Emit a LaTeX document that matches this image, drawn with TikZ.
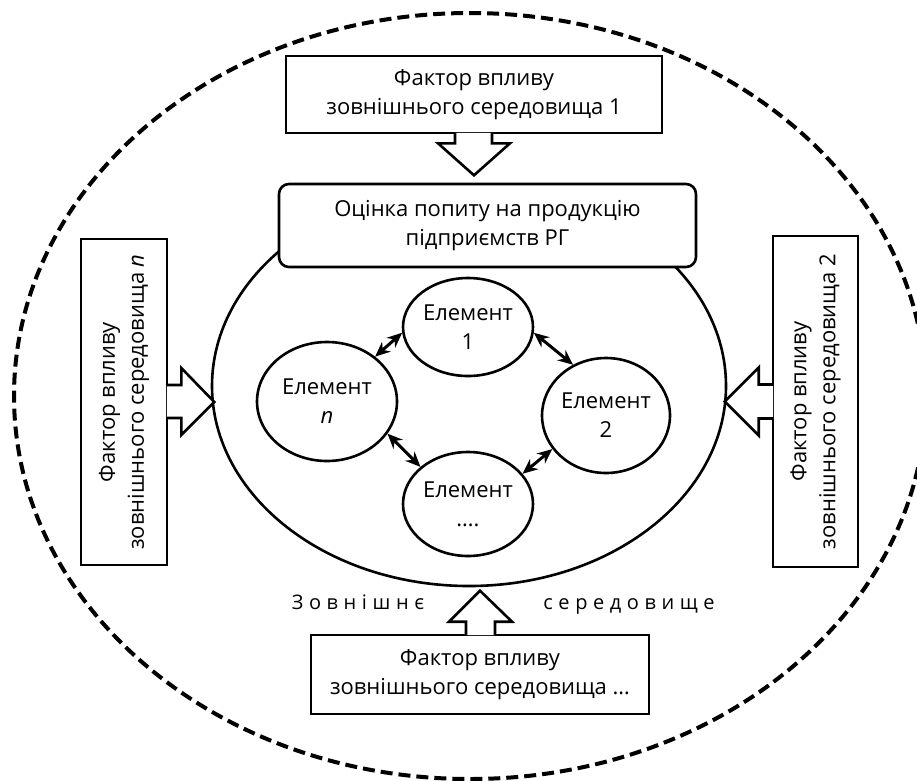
\documentclass[tikz,border=0pt]{standalone}
\usepackage{fontspec}
\setmainfont{Open Sans}
\usetikzlibrary{shapes.geometric,calc,arrows.meta}
\begin{document}
\begin{tikzpicture}[x=1pt,y=-1pt,line width=2.6pt,
  txt/.style={font=\fontsize{22}{29}\selectfont, align=center},
  fbox/.style={draw, txt, inner sep=0pt},
  elem/.style={draw, ellipse, txt, inner sep=0pt},
  barrow/.style={draw, fill=white, line join=miter},
  link/.style={{Stealth[length=15pt,width=13pt]}-{Stealth[length=15pt,width=13pt]}, line width=3pt},
  envtxt/.style={font=\fontsize{20}{22}\selectfont\addfontfeature{LetterSpace=28}, inner sep=0pt, anchor=base}]
\useasboundingbox (0,0) rectangle (917,780);
\clip (0,0) rectangle (917,780);
% outer environment
\draw[line width=4pt, dash pattern=on 12pt off 6pt] (470,396) ellipse [x radius=456, y radius=383];
% system ellipse
\node[draw, ellipse, minimum width=514pt, minimum height=400pt, inner sep=0pt] (sys) at (469,386) {};
% boxes
\node[fbox, minimum width=376pt, minimum height=77pt] (f1) at (474,94.5) {Фактор впливу\\зовнішнього середовища 1};
\node[fbox, rounded corners=10pt, fill=white, minimum width=417pt, minimum height=83pt] (est) at (487.5,225.5) {Оцінка попиту на продукцію\\підприємств РГ};
\node[fbox, rotate=90, minimum width=326pt, minimum height=86pt] (fn) at (124,402) {Фактор впливу\\зовнішнього середовища \textit{n}};
\node[fbox, rotate=90, minimum width=331pt, minimum height=85pt] (f2) at (815.5,401.5) {Фактор впливу\\зовнішнього середовища 2};
\node[fbox, minimum width=338pt, minimum height=79pt] (fd) at (480,674.5) {Фактор впливу\\зовнішнього середовища …};
% block arrows
\path[barrow] ($(f1.south)+(-19,-1.5)$) -- ++(0,10.5) -- ++(-17,0) -- ($(f1.south)+(0,41)$) -- ($(f1.south)+(36,9)$) -- ++(-18,0) -- ($(f1.south)+(18,-1.5)$);
\path[barrow] ($(fn.south)+(-1.5,-17)$) -- ++(14.5,0) -- ++(0,-17) -- ($(fn.south)+(46,0)$) -- ($(fn.south)+(13,33)$) -- ++(0,-17) -- ($(fn.south)+(-1.5,16)$);
\path[barrow] ($(f2.north)+(1.5,-17)$) -- ++(-14.5,0) -- ++(0,-17) -- ($(f2.north)+(-47,0)$) -- ($(f2.north)+(-13,34)$) -- ++(0,-17) -- ($(f2.north)+(1.5,17)$);
\path[barrow] ($(fd.north)+(-14,1.5)$) -- ++(0,-13.5) -- ++(-17,0) -- ($(fd.north)+(0,-43)$) -- ($(fd.north)+(32,-12)$) -- ++(-17,0) -- ($(fd.north)+(15,1.5)$);
% elements
\node[elem, minimum width=130pt, minimum height=98pt] (e1) at (468,327) {Елемент\\1};
\node[elem, minimum width=140pt, minimum height=119pt] (en) at (327,401.5) {Елемент\\\textit{n}};
\node[elem, minimum width=128pt, minimum height=115pt] (e2) at (606,415.5) {Елемент\\2};
\node[elem, minimum width=130pt, minimum height=104pt] (ed) at (468,504) {Елемент\\….};
% links
\draw[link] (en.43) -- (e1.185);
\draw[link] (e1.355) -- (e2.123);
\draw[link] (en.332) -- (ed.142);
\draw[link] (e2.212) -- (ed.29);
% environment label
\node[envtxt] (ext1) at (358,609) {Зовнішнє};
\node[envtxt] (ext2) at (629,609) {середовище};
\end{tikzpicture}
\end{document}
